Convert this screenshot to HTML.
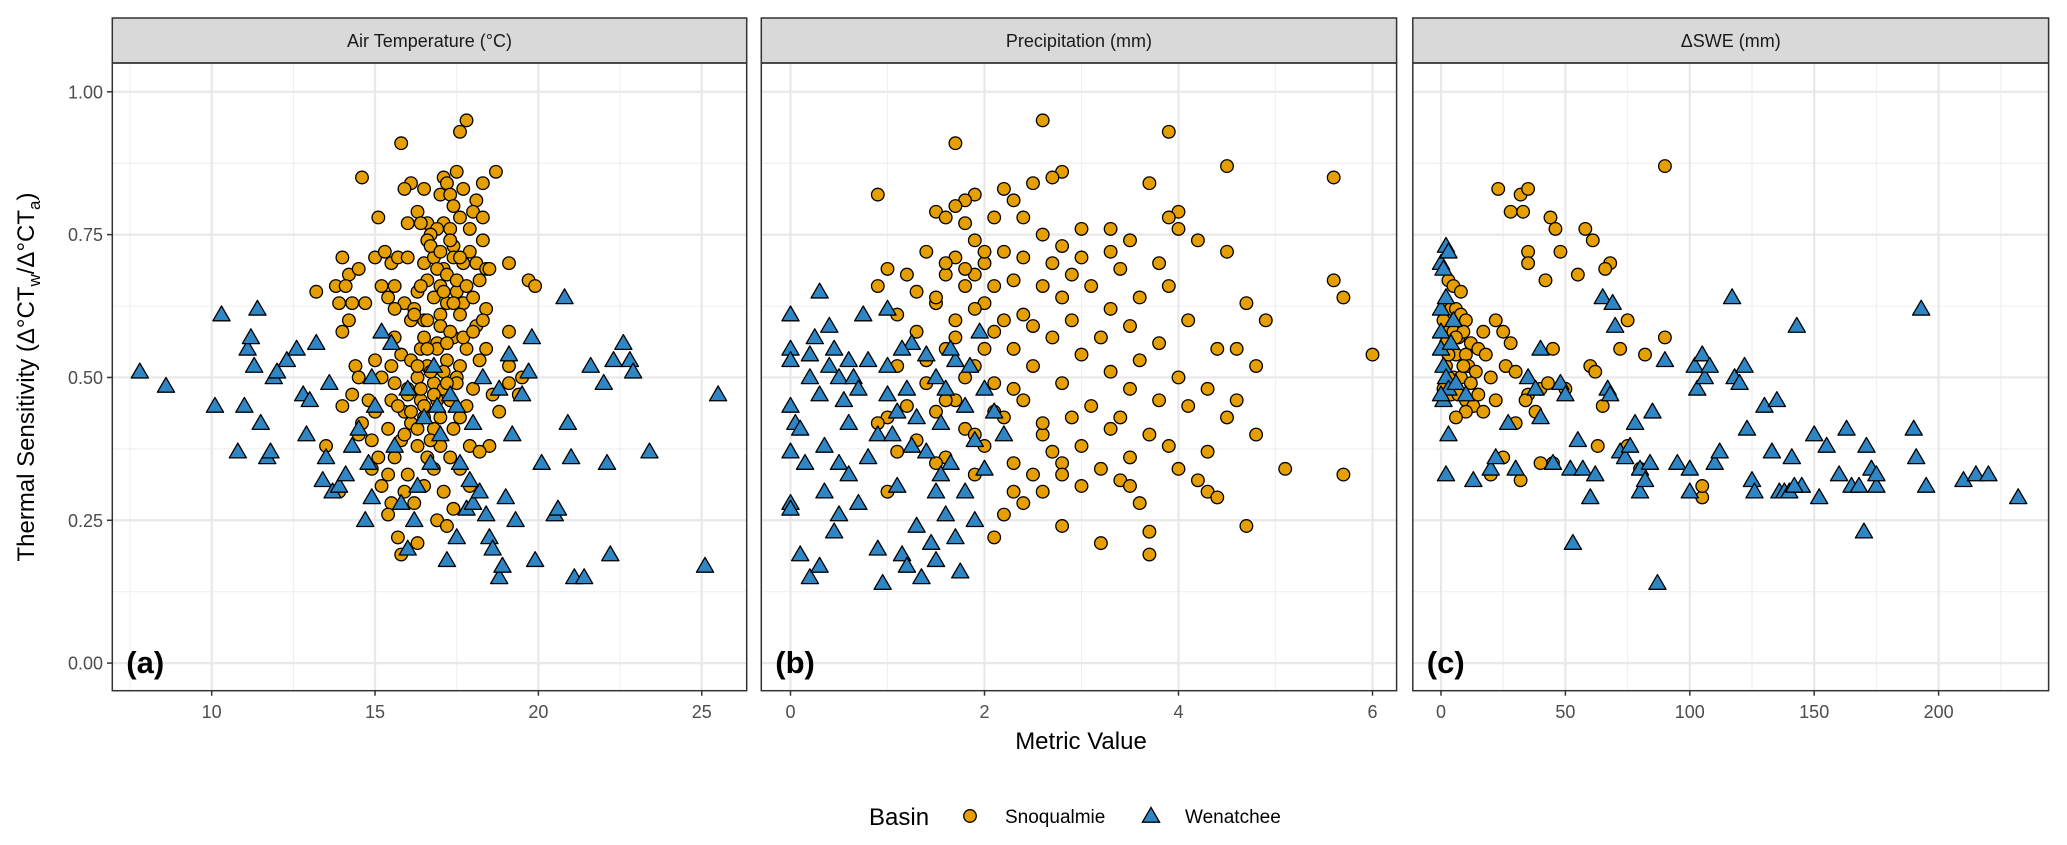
<!DOCTYPE html>
<html><head><meta charset="utf-8">
<style>
html,body{margin:0;padding:0;background:#fff;}
svg{display:block;font-family:"Liberation Sans",Arial,sans-serif;}
</style></head>
<body>
<svg id="chart" width="2067" height="845" viewBox="0 0 2067 845" xmlns="http://www.w3.org/2000/svg">
<rect width="2067" height="845" fill="#fff"/>
<g id="layer"></g>
</svg>
<script>
// ---------- data ----------
const yTicks = [0, 0.25, 0.5, 0.75, 1.0];
const yTickLabels = ["0.00", "0.25", "0.50", "0.75", "1.00"];
const panelTitles = ["Air Temperature (°C)", "Precipitation (mm)", "\u0394SWE (mm)"];
const panelTags = ["(a)", "(b)", "(c)"];
const xTicksA = [10, 15, 20, 25];
const xTicksB = [0, 2, 4, 6];
const xTicksC = [0, 50, 100, 150, 200];

const airWenX = [7.8,8.6,10.1,10.3,10.8,11.0,11.1,11.2,11.3,11.4,11.5,11.7,11.8,11.9,12.0,12.3,12.6,12.8,12.9,13.0,13.2,13.4,13.5,13.6,13.7,13.9,14.1,14.3,14.5,14.7,14.8,14.9,15.2,15.5,15.8,16.0,16.3,16.5,16.7,16.9,17.0,17.2,17.5,17.6,17.8,18.0,18.2,18.4,18.5,18.6,18.8,18.9,19.0,19.3,19.5,19.7,19.8,19.9,20.1,20.5,20.6,20.8,20.9,21.0,21.1,21.4,21.6,22.0,22.1,22.2,22.3,22.6,22.8,22.9,23.4,25.1,25.5,16.0,17.5,18.3,15.0,16.8,17.3,18.0,15.6,14.9,19.2,18.8,19.1,16.2,17.9];
const airWenY = [0.51,0.485,0.45,0.61,0.37,0.45,0.55,0.57,0.52,0.62,0.42,0.36,0.37,0.50,0.51,0.53,0.55,0.47,0.40,0.46,0.56,0.32,0.36,0.49,0.30,0.31,0.33,0.38,0.41,0.25,0.35,0.29,0.58,0.56,0.28,0.20,0.31,0.43,0.35,0.45,0.40,0.18,0.22,0.35,0.27,0.28,0.30,0.26,0.22,0.20,0.15,0.17,0.29,0.25,0.47,0.51,0.57,0.18,0.35,0.26,0.27,0.64,0.42,0.36,0.15,0.15,0.52,0.49,0.35,0.19,0.53,0.56,0.53,0.51,0.37,0.17,0.47,0.48,0.45,0.50,0.45,0.52,0.47,0.42,0.38,0.50,0.40,0.48,0.54,0.25,0.32];
const airSnoX = [17.8,17.6,15.8,14.6,17.5,18.7,17.1,17.2,16.1,16.5,15.9,17.0,17.3,17.7,18.3,18.1,17.4,16.3,16.6,17.1,17.6,18.0,18.3,16.9,17.3,16.4,16.7,17.9,18.3,15.1,16.6,17.4,17.9,15.0,14.0,14.2,14.5,15.3,15.5,15.7,16.0,16.5,16.8,17.1,17.4,17.7,18.1,18.4,19.1,19.7,19.9,18.5,13.2,13.8,14.1,15.2,15.6,16.3,16.6,17.0,17.5,18.2,13.9,14.3,14.7,15.4,15.9,16.2,17.2,17.7,18.0,18.4,14.2,14.0,16.1,16.5,17.0,17.6,18.1,19.1,15.6,16.9,17.4,15.8,16.4,17.8,18.4,14.4,15.0,15.5,16.1,16.6,17.2,17.6,18.2,19.1,19.5,19.1,14.5,15.2,15.6,16.3,16.8,17.1,17.5,18.0,18.6,19.4,14.3,14.8,15.5,16.0,16.4,16.9,17.3,17.8,14.0,15.0,15.9,16.5,17.6,18.8,14.6,15.4,16.1,16.8,17.4,14.9,15.8,16.3,17.0,17.9,18.5,15.1,15.6,16.6,17.3,18.2,14.9,15.4,16.0,16.8,17.6,15.2,15.9,16.5,17.1,17.9,15.5,16.2,17.4,13.9,15.4,16.9,17.2,15.7,16.3,15.8,14.5,13.5,
16.7,17.0,17.3,17.6,16.9,17.2,17.5,16.4,16.8,17.1,17.4,17.8,16.2,16.6,17.0,17.3,16.5,16.9,17.2,17.7,16.3,16.7,17.1,17.5,16.0,16.4,16.8,17.2,15.7,16.1,16.5,17.0,15.9,16.3,16.7,18.0,18.3,15.6,16.0,16.6];
const airSnoY = [0.95,0.93,0.91,0.85,0.86,0.86,0.85,0.84,0.84,0.83,0.83,0.82,0.82,0.83,0.84,0.81,0.80,0.79,0.77,0.77,0.78,0.79,0.78,0.76,0.76,0.77,0.75,0.76,0.74,0.78,0.74,0.73,0.72,0.71,0.71,0.68,0.69,0.72,0.70,0.71,0.71,0.70,0.71,0.69,0.71,0.70,0.70,0.69,0.70,0.67,0.66,0.69,0.65,0.66,0.66,0.66,0.66,0.65,0.67,0.66,0.65,0.67,0.63,0.63,0.63,0.64,0.63,0.62,0.63,0.63,0.64,0.62,0.60,0.58,0.60,0.60,0.61,0.61,0.59,0.58,0.57,0.56,0.57,0.54,0.55,0.55,0.55,0.52,0.53,0.52,0.53,0.52,0.53,0.52,0.53,0.52,0.50,0.49,0.50,0.50,0.49,0.50,0.49,0.48,0.50,0.48,0.47,0.47,0.47,0.46,0.46,0.47,0.46,0.46,0.46,0.45,0.45,0.44,0.44,0.43,0.43,0.44,0.42,0.41,0.42,0.41,0.41,0.39,0.39,0.38,0.38,0.38,0.38,0.36,0.36,0.36,0.36,0.37,0.34,0.33,0.33,0.34,0.34,0.31,0.30,0.31,0.30,0.31,0.28,0.28,0.27,0.30,0.26,0.25,0.24,0.22,0.21,0.19,0.40,0.38,
0.73,0.72,0.74,0.71,0.69,0.68,0.67,0.66,0.64,0.65,0.63,0.66,0.61,0.60,0.59,0.58,0.57,0.55,0.56,0.57,0.52,0.51,0.51,0.49,0.48,0.48,0.47,0.49,0.45,0.44,0.45,0.43,0.40,0.41,0.39,0.58,0.60,0.62,0.77,0.55];

const preWenX = [0.0,0.0,0.0,0.0,0.05,0.0,0.0,0.0,0.1,0.2,0.3,0.1,0.2,0.2,0.25,0.3,0.3,0.35,0.35,0.4,0.4,0.45,0.5,0.5,0.5,0.55,0.6,0.6,0.65,0.7,0.7,0.8,0.8,0.9,0.9,0.95,1.0,1.0,1.05,1.1,1.1,1.15,1.2,1.2,1.25,1.3,1.3,1.35,1.4,1.4,1.45,1.5,1.5,1.5,1.55,1.6,1.6,1.65,1.7,1.7,1.75,1.8,1.8,1.85,1.9,1.9,2.0,2.0,2.1,2.2,0.75,1.0,0.15,1.55,1.25,1.65,1.95,0.45,0.6,1.15];
const preWenY = [0.61,0.55,0.53,0.45,0.42,0.37,0.28,0.27,0.19,0.15,0.17,0.41,0.50,0.54,0.57,0.65,0.47,0.30,0.38,0.52,0.59,0.55,0.50,0.35,0.26,0.46,0.53,0.33,0.50,0.48,0.28,0.53,0.36,0.40,0.20,0.14,0.52,0.47,0.40,0.44,0.31,0.19,0.17,0.48,0.56,0.43,0.24,0.15,0.37,0.54,0.21,0.50,0.30,0.18,0.42,0.26,0.48,0.35,0.53,0.22,0.16,0.45,0.30,0.52,0.39,0.25,0.48,0.34,0.44,0.40,0.61,0.62,0.35,0.33,0.38,0.55,0.58,0.23,0.42,0.55];
const preSnoX = [2.6,1.7,3.9,4.5,5.6,2.8,2.7,2.5,2.2,3.7,1.9,0.9,1.8,2.3,1.5,1.6,2.1,2.4,4.0,4.0,3.9,3.3,4.2,3.0,2.6,2.8,2.2,3.5,1.4,1.7,2.0,2.4,2.7,3.0,3.3,4.5,1.0,1.2,1.6,1.9,2.3,2.9,3.4,3.8,5.6,0.9,1.3,1.8,2.6,3.1,3.6,3.9,1.5,2.0,2.8,3.3,4.7,5.7,1.1,1.7,2.4,2.9,3.5,4.1,4.9,1.3,2.1,2.7,3.2,3.8,4.4,1.6,2.3,3.0,3.6,4.6,6.0,1.1,1.9,2.5,3.3,4.0,4.8,1.4,2.1,2.8,3.5,4.3,1.7,2.4,3.1,3.8,4.6,1.0,1.5,2.2,2.9,3.4,4.1,0.9,1.8,2.6,3.3,3.7,4.5,1.3,2.0,2.7,3.0,3.9,4.8,1.6,2.3,2.8,3.2,3.5,4.3,1.9,2.5,3.4,4.0,5.1,5.7,1.0,2.3,2.6,3.0,3.5,4.2,4.3,2.4,3.6,2.8,4.7,3.7,2.1,3.2,3.7,2.2,4.4,
1.7,1.8,1.9,2.0,1.6,1.8,2.1,1.5,1.9,2.2,1.7,2.0,2.5,1.4,1.8,2.3,1.6,2.1,1.2,1.9,2.6,1.1,1.5,2.8];
const preSnoY = [0.95,0.91,0.93,0.87,0.85,0.86,0.85,0.84,0.83,0.84,0.82,0.82,0.81,0.81,0.79,0.78,0.78,0.78,0.79,0.76,0.78,0.76,0.74,0.76,0.75,0.73,0.72,0.74,0.72,0.71,0.70,0.71,0.70,0.71,0.72,0.72,0.69,0.68,0.68,0.68,0.67,0.68,0.69,0.70,0.67,0.66,0.65,0.66,0.66,0.66,0.64,0.66,0.63,0.63,0.64,0.62,0.63,0.64,0.61,0.60,0.61,0.60,0.59,0.60,0.60,0.58,0.58,0.57,0.57,0.56,0.55,0.55,0.55,0.54,0.53,0.55,0.54,0.52,0.52,0.52,0.51,0.50,0.52,0.49,0.49,0.49,0.48,0.48,0.46,0.46,0.45,0.46,0.46,0.43,0.44,0.43,0.43,0.43,0.45,0.42,0.41,0.40,0.41,0.40,0.43,0.39,0.38,0.37,0.38,0.38,0.40,0.36,0.35,0.35,0.34,0.36,0.37,0.33,0.33,0.32,0.34,0.34,0.33,0.30,0.30,0.30,0.31,0.31,0.32,0.30,0.28,0.28,0.24,0.24,0.23,0.22,0.21,0.19,0.26,0.29,
0.80,0.77,0.74,0.72,0.70,0.69,0.66,0.64,0.62,0.60,0.57,0.55,0.59,0.53,0.50,0.48,0.46,0.44,0.45,0.40,0.42,0.37,0.35,0.33];

const sweWenX = [0,2,3,1,0,0,0,1,2,3,1,0,3,2,5,4,2,6,10,13,20,22,27,30,35,38,40,45,48,50,52,53,55,57,60,62,65,67,68,69,70,72,74,76,78,80,80,82,84,87,90,95,100,102,103,105,106,108,110,112,117,118,120,122,123,125,126,130,133,135,136,138,140,141,143,145,150,152,155,160,163,165,168,170,171,173,175,175,190,191,193,195,210,215,220,232,40,85,142,100];
const sweWenY = [0.70,0.73,0.72,0.69,0.62,0.58,0.55,0.52,0.50,0.48,0.46,0.47,0.40,0.33,0.60,0.56,0.64,0.49,0.47,0.32,0.34,0.36,0.42,0.34,0.50,0.48,0.43,0.35,0.49,0.47,0.34,0.21,0.39,0.34,0.29,0.33,0.64,0.48,0.47,0.63,0.59,0.37,0.36,0.38,0.42,0.34,0.30,0.32,0.35,0.14,0.53,0.35,0.34,0.52,0.48,0.54,0.50,0.52,0.35,0.37,0.64,0.50,0.49,0.52,0.41,0.32,0.30,0.45,0.37,0.46,0.30,0.30,0.30,0.36,0.59,0.31,0.40,0.29,0.38,0.33,0.41,0.31,0.31,0.23,0.38,0.34,0.31,0.33,0.41,0.36,0.62,0.31,0.32,0.33,0.33,0.29,0.55,0.44,0.31,0.30];
const sweSnoX = [90,23,32,35,33,28,44,46,58,61,48,35,68,35,66,42,55,3,5,8,2,4,6,8,10,1,3,5,7,9,2,4,6,10,12,22,25,15,18,26,30,2,5,8,11,14,20,1,4,7,10,13,17,22,35,38,40,45,60,62,72,75,90,82,30,34,43,50,65,80,105,105,75,63,45,25,20,40,10,6,15,3,9,12,6,3,17,28,32];
const sweSnoY = [0.87,0.83,0.82,0.83,0.79,0.79,0.78,0.76,0.76,0.74,0.72,0.72,0.70,0.70,0.69,0.67,0.68,0.67,0.66,0.65,0.63,0.62,0.62,0.61,0.60,0.60,0.58,0.58,0.57,0.58,0.56,0.55,0.54,0.54,0.56,0.60,0.58,0.55,0.54,0.52,0.51,0.52,0.50,0.50,0.52,0.51,0.50,0.48,0.47,0.47,0.46,0.45,0.44,0.46,0.47,0.44,0.48,0.55,0.52,0.51,0.55,0.60,0.57,0.54,0.42,0.46,0.49,0.48,0.45,0.34,0.29,0.31,0.38,0.38,0.35,0.36,0.33,0.35,0.44,0.43,0.47,0.50,0.52,0.49,0.57,0.54,0.58,0.56,0.32];

// ---------- layout ----------
const NS = "http://www.w3.org/2000/svg";
const layer = document.getElementById("layer");
const PT = 63, PB = 690.7, ST = 18;
const yS = v => 663.1 - 571.3 * v;
const panels = [
  {name:"air-temperature", l:112.3, r:746.7, x: v => 211.7 + 32.67*(v-10), ticks:xTicksA, minor:[7.5,12.5,17.5,22.5], wx:airWenX, wy:airWenY, sx:airSnoX, sy:airSnoY},
  {name:"precipitation", l:761.3, r:1396.6, x: v => 790.5 + 97*v, ticks:xTicksB, minor:[1,3,5], wx:preWenX, wy:preWenY, sx:preSnoX, sy:preSnoY},
  {name:"delta-swe", l:1412.8, r:2048.6, x: v => 1441 + 2.488*v, ticks:xTicksC, minor:[25,75,125,175,225], wx:sweWenX, wy:sweWenY, sx:sweSnoX, sy:sweSnoY}
];
const yMinor = [0.125,0.375,0.625,0.875];

function mk(tag, attrs, parent){
  const e = document.createElementNS(NS, tag);
  for (const k in attrs) e.setAttribute(k, attrs[k]);
  (parent||layer).appendChild(e);
  return e;
}
const SNO = "#E69F00", WEN = "#2F86C5";

panels.forEach((p, i) => {
  const g = mk("g", {});
  
  
  mk("rect", {x:p.l, y:PT, width:p.r-p.l, height:PB-PT, fill:"#fff"}, g);
  yMinor.forEach(v => mk("line", {x1:p.l, x2:p.r, y1:yS(v), y2:yS(v), stroke:"#f0f0f0", "stroke-width":1.2}, g));
  p.minor.forEach(v => { const x=p.x(v); if (x>p.l && x<p.r) mk("line", {x1:x, x2:x, y1:PT, y2:PB, stroke:"#f0f0f0", "stroke-width":1.2}, g); });
  yTicks.forEach(v => mk("line", {x1:p.l, x2:p.r, y1:yS(v), y2:yS(v), stroke:"#e8e8e8", "stroke-width":2.2}, g));
  p.ticks.forEach(v => mk("line", {x1:p.x(v), x2:p.x(v), y1:PT, y2:PB, stroke:"#e8e8e8", "stroke-width":2.2}, g));
  const strip = mk("rect", {x:p.l, y:ST, width:p.r-p.l, height:PT-ST, fill:"#d9d9d9", stroke:"#333", "stroke-width":1.5}, g);
  
  
  const st = mk("text", {x:(p.l+p.r)/2, y:(ST+PT)/2+6.5, "text-anchor":"middle", "font-size":18, fill:"#1a1a1a"}, g);
  st.textContent = panelTitles[i];
  
  
  p.sx.forEach((v, j) => {
    const c = mk("circle", {cx:p.x(v), cy:yS(p.sy[j]), r:6.3, fill:SNO, stroke:"#000", "stroke-width":1.3}, g);
    
    
  });
  p.wx.forEach((v, j) => {
    const cx = p.x(v), cy = yS(p.wy[j]), s = 8.6;
    const t = mk("polygon", {points:`${cx},${cy-s} ${cx-s},${cy+s*0.72} ${cx+s},${cy+s*0.72}`, fill:WEN, stroke:"#000", "stroke-width":1.3, "stroke-linejoin":"round"}, g);
    
    
  });
  mk("rect", {x:p.l, y:PT, width:p.r-p.l, height:PB-PT, fill:"none", stroke:"#333", "stroke-width":1.5}, g);
  const tg = mk("text", {x:p.l+14, y:673, "font-size":31, "font-weight":"bold", fill:"#000"}, g);
  tg.textContent = panelTags[i];
  
  
  p.ticks.forEach(v => {
    mk("line", {x1:p.x(v), x2:p.x(v), y1:PB, y2:PB+5, stroke:"#333", "stroke-width":1.5}, g);
    const tl = mk("text", {x:p.x(v), y:718, "text-anchor":"middle", "font-size":18, fill:"#4d4d4d"}, g);
    tl.textContent = String(v);
    
    
  });
});

yTicks.forEach((v, i) => {
  mk("line", {x1:107, x2:112.3, y1:yS(v), y2:yS(v), stroke:"#333", "stroke-width":1.5});
  const t = mk("text", {x:103, y:yS(v)+6.5, "text-anchor":"end", "font-size":18, fill:"#4d4d4d"});
  t.textContent = yTickLabels[i];
  
  
});
</script>
<svg style="position:absolute;left:0;top:0" width="2067" height="845" xmlns="http://www.w3.org/2000/svg">
  <text transform="translate(34,377) rotate(-90)" text-anchor="middle" font-family="Liberation Sans, Arial, sans-serif" font-size="24" fill="#000">Thermal Sensitivity (Δ°CT<tspan font-size="17" dy="6">w</tspan><tspan dy="-6">/Δ°CT</tspan><tspan font-size="17" dy="6">a</tspan><tspan dy="-6">)</tspan></text>
  <text x="1081" y="749" text-anchor="middle" font-family="Liberation Sans, Arial, sans-serif" font-size="24" fill="#000">Metric Value</text>
  <g font-family="Liberation Sans, Arial, sans-serif">
    <text x="869" y="825" font-size="24" fill="#000">Basin</text>
    <circle cx="970" cy="816" r="6.3" fill="#E69F00" stroke="#000" stroke-width="1.3"/>
    <text x="1005" y="823" font-size="19" fill="#000">Snoqualmie</text>
    <polygon points="1151,807.4 1142.4,822.2 1159.6,822.2" fill="#2F86C5" stroke="#000" stroke-width="1.3"/>
    <text x="1185" y="823" font-size="19" fill="#000">Wenatchee</text>
  </g>
</svg>
</body></html>
